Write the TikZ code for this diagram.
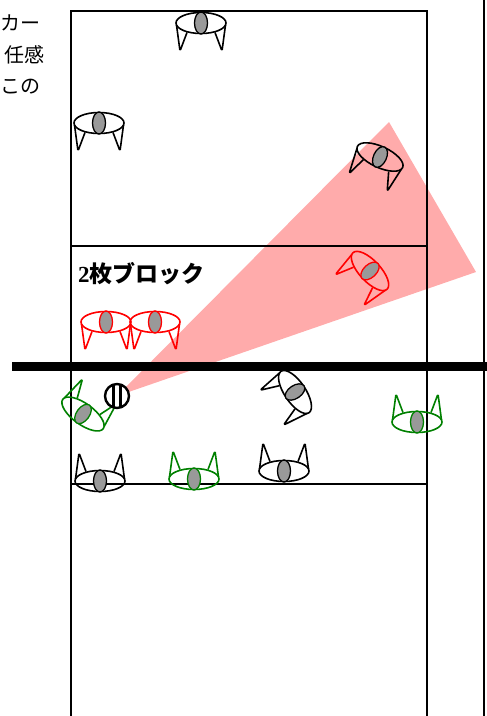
\documentclass[tikz,border=0pt]{standalone}
\usepackage{fontspec}
\newfontfamily\jpfont{Noto Sans CJK JP}
\newfontfamily\numfont{Liberation Serif}
\usetikzlibrary{positioning}

\definecolor{teamgreen}{RGB}{0,128,0}
\tikzstyle{courtline} = [line width=1.5pt, black]
\tikzstyle{netline} = [line width=9pt, black]
\tikzstyle{sideline} = [line width=2.4pt, black]
\tikzstyle{zone} = [fill=red!33]
\tikzstyle{body} = [line width=1.6pt, line join=round]
\tikzstyle{arm} = [line width=1.6pt, line join=round, rounded corners=1.5pt]
\tikzstyle{head} = [line width=1.3pt, fill=black!40]
\tikzstyle{note} = [font=\jpfont\fontsize{20}{20}\selectfont, anchor=east, inner sep=0pt]
\tikzstyle{blocktext} = [font=\jpfont\bfseries\fontsize{23}{23}\selectfont, anchor=west, inner sep=0pt]
\tikzstyle{ball} = [circle, draw=black, fill=white, line width=2.4pt, minimum size=24pt, inner sep=0pt,
    path picture={\foreach \s in {-3.5,3.5}
        \fill[black] ([xshift=\s pt-1.5pt]path picture bounding box.south) rectangle
                     ([xshift=\s pt+1.5pt]path picture bounding box.north);}]

% player seen from above: x, y, angle, colour, facing (1 = arms down, -1 = arms up)
\newcommand{\player}[5]{%
  \begin{scope}[shift={(#1,#2)}, rotate=#3, yscale=#5]
    \draw[body, #4] (0,0) ellipse (25 and 10.5);
    \draw[arm, #4] (-24.5,2) -- (-21,28) -- (-14,9.5);
    \draw[arm, #4] (24.5,2) -- (21,28) -- (14,9.5);
    \draw[head, draw=#4] (0,0) ellipse (6.5 and 11);
  \end{scope}}

\begin{document}
\begin{tikzpicture}[x=1pt, y=-1pt]
    \clip (0,0) rectangle (487,716);

    % Attack direction
    \fill[zone] (117,396) -- (389,122) -- (476,272) -- cycle;

    % Court
    \draw[courtline] (71,716) -- (71,11) -- (427,11) -- (427,716);
    \draw[courtline] (71,246) -- (427,246);
    \draw[courtline] (71,484) -- (427,484);
    \draw[sideline] (484,0) -- (484,716);
    \draw[netline] (12,366) -- (487,366);

    % Notes
    \node[note] (note1) at (41,23) {カー};
    \node[note] (note2) at (45,55) {任感};
    \node[note] (note3) at (41,87) {この};
    \node[blocktext] (block) at (78,274) {{\numfont\bfseries 2}枚ブロック};

    % Far side
    \player{201}{23}{0}{black}{1}
    \player{99}{123}{0}{black}{1}
    \player{380}{157}{-25}{black}{1}
    \player{370}{271}{-47}{red}{1}
    \player{106}{322}{0}{red}{1}
    \player{155}{322}{0}{red}{1}

    % Near side
    \player{83}{414}{-36}{teamgreen}{-1}
    \player{295}{392}{-56}{black}{1}
    \player{417}{422}{0}{teamgreen}{-1}
    \player{100}{481}{0}{black}{-1}
    \player{194}{479}{0}{teamgreen}{-1}
    \player{284}{471}{0}{black}{-1}

    % Ball
    \node[ball] (volley) at (117,396) {};
\end{tikzpicture}
\end{document}
